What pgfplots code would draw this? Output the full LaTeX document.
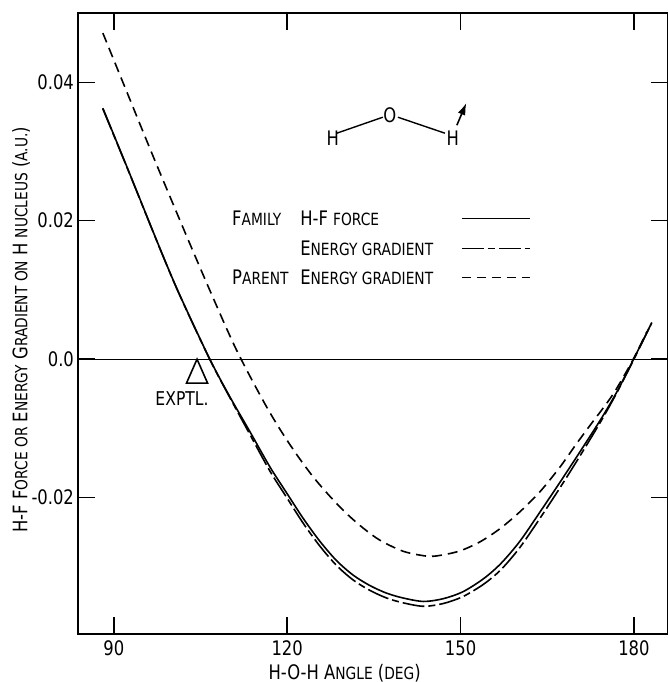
\documentclass[border=0pt]{standalone}
\usepackage{fontspec}
\setmainfont{DejaVu Sans}[FakeStretch=0.82]
\usepackage{pgfplots}
\pgfplotsset{compat=1.18}
\usetikzlibrary{arrows.meta}
\newcommand\smc[1]{{\fontsize{8.4}{9}\selectfont #1}}
\newcommand\txt{\fontsize{10}{11}\selectfont}

\begin{document}
\begin{tikzpicture}
\begin{axis}[
    name=ax,
    scale only axis,
    width=295pt, height=310.5pt,
    xmin=83.8, xmax=185.9,
    ymin=-0.0397, ymax=0.05,
    xtick={90,120,150,180},
    xticklabels={90,120,150,180},
    ytick={-0.02,0,0.02,0.04},
    yticklabels={-0.02,0.0,0.02,0.04},
    tick align=inside,
    major tick length=8.5pt,
    every tick/.style={black, line width=0.7pt},
    axis line style={line width=0.8pt},
    /pgf/number format/assume math mode=true,
    tick label style={font=\txt},
    yticklabel style={xshift=1.5pt},
    xlabel={H-O-H A\smc{NGLE} (\smc{DEG})},
    ylabel={H-F F\smc{ORCE OR} E\smc{NERGY} G\smc{RADIENT ON} H \smc{NUCLEUS} (\smc{A.U.})},
    label style={font=\txt},
    x label style={at={(axis description cs:0.452,-0.0628)}, anchor=center},
    y label style={at={(axis description cs:-0.0966,0.49)}, anchor=center},
    clip=false,
]
% zero line
\addplot[black, line width=0.6pt, forget plot] coordinates {(83.8,0) (185.9,0)};

% Family: H-F force
\addplot[black, line width=0.8pt, smooth] coordinates {
(88.10,0.03625) (92.40,0.02750) (97.96,0.01603) (101.42,0.00924)
(106.61,0.00000) (110.08,-0.00544) (113.50,-0.01040) (117.00,-0.01555)
(119.89,-0.01930) (122.77,-0.02300) (125.65,-0.02630) (128.54,-0.02910)
(131.42,-0.03120) (134.31,-0.03270) (137.20,-0.03380) (140.07,-0.03450)
(143.60,-0.03500) (147.00,-0.03460) (150.40,-0.03360) (154.00,-0.03170)
(157.00,-0.02950) (160.27,-0.02630) (163.73,-0.02210) (167.19,-0.01780)
(170.65,-0.01340) (174.41,-0.00850) (177.20,-0.00450) (180.00,0.00010)
(183.11,0.00530)
};

% Family: energy gradient
\addplot[black, line width=0.8pt, smooth, dash pattern=on 11pt off 2pt on 3.5pt off 2pt] coordinates {
(88.10,0.03615) (92.40,0.02745) (97.96,0.01600) (101.42,0.00920)
(106.61,-0.00005) (110.08,-0.00555) (113.50,-0.01080) (117.00,-0.01615)
(119.89,-0.01995) (122.77,-0.02370) (125.65,-0.02700) (128.54,-0.02980)
(131.42,-0.03190) (134.31,-0.03340) (137.20,-0.03450) (140.07,-0.03520)
(143.60,-0.03570) (147.00,-0.03530) (150.40,-0.03430) (154.00,-0.03250)
(157.00,-0.03040) (160.27,-0.02720) (163.73,-0.02300) (167.19,-0.01860)
(170.65,-0.01400) (174.41,-0.00880) (177.20,-0.00460) (180.00,0.00000)
(183.00,0.00510)
};

% Parent: energy gradient
\addplot[black, line width=0.8pt, smooth, dash pattern=on 5pt off 3pt] coordinates {
(88.10,0.04710) (92.20,0.03870) (97.00,0.02890) (102.58,0.01780)
(107.00,0.00920) (111.24,0.00130) (115.84,-0.00600) (118.73,-0.01010)
(121.62,-0.01375) (124.49,-0.01700) (127.38,-0.01980) (130.27,-0.02230)
(133.15,-0.02440) (136.04,-0.02615) (140.07,-0.02775) (144.12,-0.02845)
(146.42,-0.02835) (149.88,-0.02770) (153.34,-0.02640) (156.80,-0.02450)
(160.27,-0.02205) (163.73,-0.01916) (167.19,-0.01560) (170.08,-0.01220)
(172.38,-0.00960) (176.36,-0.00510) (179.83,-0.00010) (182.25,0.00400)
};

% experimental angle
\addplot[only marks, mark=triangle, mark size=7pt,
    mark options={black, line width=0.8pt, xscale=0.87, yscale=1.14}] coordinates {(104.4,-0.00231)};
\node[font=\fontsize{9.5}{11}\selectfont] at (axis cs:101.8,-0.00563) {EXPTL.};

% molecule sketch
\node[font=\txt] at (axis cs:127.9,0.0319) {H};
\node[font=\txt] at (axis cs:137.77,0.0352) {O};
\node[font=\txt] at (axis cs:148.67,0.0319) {H};
\draw[line width=0.7pt] (axis cs:128.59,0.03264) -- (axis cs:136.56,0.03495);
\draw[line width=0.7pt] (axis cs:139.15,0.03495) -- (axis cs:147.29,0.03264);
\draw[line width=0.8pt, -{Latex[length=6pt,width=4pt]}] (axis cs:149.36,0.03379) -- (axis cs:151.0,0.03700);

% legend
\node[anchor=west, font=\txt, inner sep=0pt] at (axis cs:110.42,0.0203) {F\smc{AMILY}};
\node[anchor=west, font=\txt, inner sep=0pt] at (axis cs:122.19,0.0203) {H-F \smc{FORCE}};
\node[anchor=west, font=\txt, inner sep=0pt] at (axis cs:122.19,0.0160) {E\smc{NERGY GRADIENT}};
\node[anchor=west, font=\txt, inner sep=0pt] at (axis cs:110.42,0.0118) {P\smc{ARENT}};
\node[anchor=west, font=\txt, inner sep=0pt] at (axis cs:122.19,0.0118) {E\smc{NERGY GRADIENT}};
\draw[line width=0.8pt] (axis cs:150.23,0.0203) -- (axis cs:162.0,0.0203);
\draw[line width=0.8pt, dash pattern=on 11pt off 2pt on 3.5pt off 2pt] (axis cs:150.23,0.0160) -- (axis cs:162.0,0.0160);
\draw[line width=0.8pt, dash pattern=on 4.5pt off 3pt] (axis cs:150.23,0.0118) -- (axis cs:162.0,0.0118);
\end{axis}
\pgfresetboundingbox
\path[use as bounding box] ([shift={(-39pt,-24pt)}]ax.south west) rectangle ([shift={(-0.3pt,6.5pt)}]ax.north east);
\end{tikzpicture}
\end{document}
